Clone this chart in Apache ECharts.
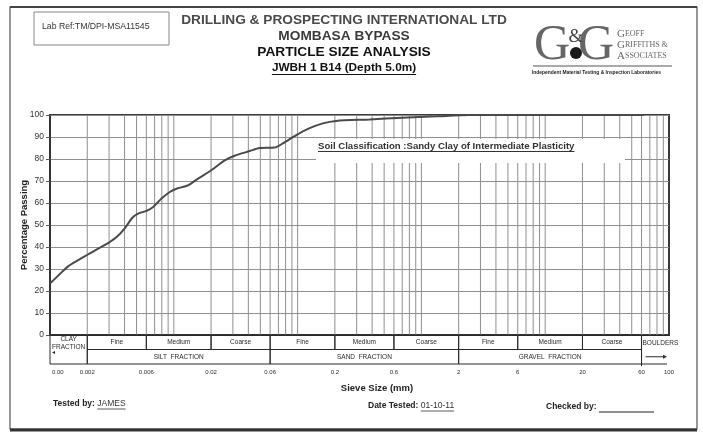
<!DOCTYPE html>
<html>
<head>
<meta charset="utf-8">
<script src="https://cdn.jsdelivr.net/npm/echarts@6.0.0/dist/echarts.min.js"></script>
<style>
  html, body { margin: 0; padding: 0; background: #ffffff; }
  #chart { width: 703px; height: 433px; }
</style>
</head>
<body>
<div id="chart"></div>
<script>
// Grading curve: sieve size (mm) against percentage passing
const sieveSizes = [0.001, 0.00117, 0.0014, 0.00169, 0.00204, 0.00245, 0.00295, 0.00345, 0.00403,
  0.00461, 0.00515, 0.00603, 0.00681, 0.00796, 0.00928, 0.0105, 0.013, 0.0157, 0.0201, 0.0258,
  0.031, 0.041, 0.0494, 0.0653, 0.0761, 0.0976, 0.125, 0.16, 0.205, 0.381, 0.703, 1.32, 2.44, 6.3, 20, 63];
const percentPassing = [23.4, 27.1, 31.2, 34, 36.7, 39.3, 41.8, 44.5, 48.6,
  53.2, 55.2, 56.4, 58.2, 62, 65, 66.5, 68, 71.1, 74.9, 79.4,
  81.5, 83.6, 85, 85.2, 87.1, 90.9, 94, 96.2, 97.3, 98, 98.8, 99.4, 100, 100, 100, 100];

// Sieve size labels printed under the fraction table
const sieveTicks = [0.001, 0.002, 0.006, 0.02, 0.06, 0.2, 0.6, 2, 6, 20, 60, 100];
const sieveTickLabels = ['0.00', '0.002', '0.006', '0.02', '0.06', '0.2', '0.6', '2', '6', '20', '60', '100'];

// Soil fraction table (BS 5930 boundaries)
const subFractionEdges = [0.002, 0.006, 0.02, 0.06, 0.2, 0.6, 2, 6, 20, 60];
const subFractionNames = ['Fine', 'Medium', 'Coarse', 'Fine', 'Medium', 'Coarse', 'Fine', 'Medium', 'Coarse'];
const mainFractionEdges = [0.002, 0.06, 2, 60];
const mainFractionNames = ['SILT  FRACTION', 'SAND  FRACTION', 'GRAVEL  FRACTION'];
const clayRange = [0.001, 0.002];
const boulderRange = [60, 100];

const FONT = '"Liberation Sans", Arial, sans-serif';
const SERIF = '"Liberation Serif", "DejaVu Serif", serif';
const INK = '#2a2a2a';
const GRID = '#8f8f8f';
const ROW_H = 14.5;

// log-cycle grid: 1..9 within every decade
const logGrid = [];
for (let e = -3; e <= 1; e++) {
  for (let m = 1; m <= 9; m++) {
    const v = Number((m * Math.pow(10, e)).toPrecision(3));
    if (v > 0.001 && v < 100) logGrid.push(v);
  }
}

// table cells built from the fraction arrays
const cells = [{ kind: 'clay', from: clayRange[0], to: clayRange[1] }];
subFractionNames.forEach((n, i) => cells.push({ kind: 'sub', from: subFractionEdges[i], to: subFractionEdges[i + 1], label: n }));
mainFractionNames.forEach((n, i) => cells.push({ kind: 'main', from: mainFractionEdges[i], to: mainFractionEdges[i + 1], label: n }));
cells.push({ kind: 'boulder', from: boulderRange[0], to: boulderRange[1] });

const mctx = document.createElement('canvas').getContext('2d');
function textWidth(str, size, weight) {
  mctx.font = (weight || 'normal') + ' ' + size + 'px ' + FONT;
  return mctx.measureText(str).width;
}

const cellStroke = { stroke: INK, lineWidth: 1, fill: 'transparent' };
function cellText(x, y, txt, size, align) {
  return { type: 'text', style: { x: x, y: y, text: txt, fill: INK, font: size + 'px ' + FONT, align: align || 'center', verticalAlign: 'middle' } };
}

function renderCell(params, api) {
  const c = cells[params.dataIndex];
  const p0 = api.coord([c.from, 0]);
  const x0 = p0[0], yb = p0[1];
  const x1 = api.coord([c.to, 0])[0];
  const kids = [];
  if (c.kind === 'sub') {
    kids.push({ type: 'rect', shape: { x: x0, y: yb, width: x1 - x0, height: ROW_H }, style: cellStroke });
    kids.push(cellText((x0 + x1) / 2, yb + ROW_H / 2, c.label, 6.5));
  } else if (c.kind === 'main') {
    kids.push({ type: 'rect', shape: { x: x0, y: yb + ROW_H, width: x1 - x0, height: ROW_H }, style: cellStroke });
    kids.push(cellText((x0 + x1) / 2, yb + ROW_H * 1.5, c.label, 6.5));
  } else if (c.kind === 'clay') {
    kids.push({ type: 'rect', shape: { x: x0, y: yb, width: x1 - x0, height: ROW_H * 2 }, style: cellStroke });
    kids.push(cellText((x0 + x1) / 2, yb + 4.5, 'CLAY', 6.5));
    kids.push(cellText((x0 + x1) / 2, yb + 12.5, 'FRACTION', 6.5));
    kids.push({ type: 'polygon', shape: { points: [[x0 + 2, yb + 17.5], [x0 + 5, yb + 16], [x0 + 5, yb + 19]] }, style: { fill: INK } });
  } else {
    kids.push({ type: 'line', shape: { x1: x0, y1: yb, x2: x0, y2: yb + ROW_H * 2 + 2 }, style: { stroke: INK, lineWidth: 1 } });
    kids.push({ type: 'line', shape: { x1: x0, y1: yb + ROW_H * 2, x2: x1 - 2, y2: yb + ROW_H * 2 }, style: { stroke: INK, lineWidth: 1 } });
    kids.push(cellText(x0 + 1, yb + ROW_H / 2 + 1, 'BOULDERS', 6.5, 'left'));
    const ya = yb + ROW_H * 1.5;
    kids.push({ type: 'line', shape: { x1: x0 + 4, y1: ya, x2: x1 - 5, y2: ya }, style: { stroke: INK, lineWidth: 1 } });
    kids.push({ type: 'polygon', shape: { points: [[x1 - 2, ya], [x1 - 6, ya - 2], [x1 - 6, ya + 2]] }, style: { fill: INK } });
  }
  return { type: 'group', children: kids };
}

function renderTick(params, api) {
  const v = sieveTicks[params.dataIndex];
  const p = api.coord([v, 0]);
  const first = params.dataIndex === 0;
  return cellText(first ? p[0] + 2 : p[0], p[1] + 37.5, sieveTickLabels[params.dataIndex], 6, first ? 'left' : 'center');
}

function renderGridLine(params, api) {
  const v = logGrid[params.dataIndex];
  const a = api.coord([v, 0]);
  const b = api.coord([v, 100]);
  return { type: 'line', shape: { x1: a[0], y1: a[1], x2: b[0], y2: b[1] }, style: { stroke: GRID, lineWidth: 1 } };
}

// header / footer helpers
function txt(x, y, str, size, weight, color, align, family) {
  return { type: 'text', z: 20, style: { x: x, y: y, text: str, fill: color || INK, font: (weight || 'normal') + ' ' + size + 'px ' + (family || FONT), align: align || 'left', verticalAlign: 'middle' } };
}
function underline(x, y, w, color, width) {
  return { type: 'line', z: 20, shape: { x1: x, y1: y, x2: x + w, y2: y }, style: { stroke: color || INK, lineWidth: width || 1 } };
}

const graphics = [];
// page frame
graphics.push({ type: 'rect', z: 0, shape: { x: 10, y: 7, width: 687, height: 422 }, style: { fill: 'transparent', stroke: '#555', lineWidth: 1.2 } });
graphics.push({ type: 'line', z: 0, shape: { x1: 10, y1: 7, x2: 697, y2: 7 }, style: { stroke: '#444', lineWidth: 2 } });
graphics.push({ type: 'line', z: 0, shape: { x1: 10, y1: 430, x2: 697, y2: 430 }, style: { stroke: '#333', lineWidth: 3 } });
// lab reference box
graphics.push({ type: 'rect', z: 20, shape: { x: 34, y: 12, width: 135, height: 33 }, style: { fill: 'transparent', stroke: '#888', lineWidth: 1 } });
graphics.push(txt(42, 27, 'Lab Ref:TM/DPI-MSA11545', 8.7, 'normal', '#333'));
// titles
const TX = 344;
graphics.push(txt(TX, 20, 'DRILLING & PROSPECTING INTERNATIONAL LTD', 13.7, 'bold', '#4a4a4a', 'center'));
graphics.push(txt(TX, 36, 'MOMBASA BYPASS', 13.7, 'bold', '#3a3a3a', 'center'));
graphics.push(txt(TX, 52, 'PARTICLE SIZE ANALYSIS', 13.7, 'bold', '#111', 'center'));
const sub = 'JWBH 1 B14 (Depth 5.0m)';
const subW = textWidth(sub, 11.8, 'bold');
graphics.push(txt(TX, 68, sub, 11.8, 'bold', '#111', 'center'));
graphics.push(underline(TX - subW / 2, 74.5, subW, '#111', 1));
// logo
graphics.push(txt(534, 46, 'G', 50, 'normal', '#666', 'left', SERIF));
graphics.push(txt(578, 46, 'G', 50, 'normal', '#666', 'left', SERIF));
graphics.push(txt(576, 37, '&', 19, 'normal', '#444', 'center', SERIF));
graphics.push({ type: 'circle', z: 21, shape: { cx: 576, cy: 53, r: 6 }, style: { fill: '#1a1a1a' } });
const capRich = { b: { font: '11px ' + SERIF, fill: '#666' }, s: { font: '8px ' + SERIF, fill: '#666' } };
[['G', 'EOFF', 34], ['G', 'RIFFITHS &', 45], ['A', 'SSOCIATES', 56]].forEach(function (r) {
  graphics.push({ type: 'text', z: 20, style: { x: 617, y: r[2], text: '{b|' + r[0] + '}{s|' + r[1] + '}', rich: capRich, verticalAlign: 'middle' } });
});
graphics.push(underline(533, 66, 139, '#555', 1));
graphics.push(txt(532, 72.5, 'Independent Material Testing & Inspection Laboratories', 4.9, 'bold', '#222'));
// soil classification note
graphics.push({ type: 'rect', z: 10, shape: { x: 316, y: 139, width: 309, height: 24 }, style: { fill: '#ffffff' } });
const note = 'Soil Classification :Sandy Clay of Intermediate Plasticity';
const noteW = textWidth(note, 9.6, 'bold');
graphics.push(txt(318, 146, note, 9.6, 'bold', '#333'));
graphics.push(underline(318, 151.5, noteW, '#333', 1));
// axis title and footer
graphics.push(txt(377, 388, 'Sieve Size (mm)', 9.5, 'bold', '#222', 'center'));
graphics.push(txt(53, 404, 'Tested by: ', 8.5, 'bold', '#222'));
const tbW = textWidth('Tested by: ', 8.5, 'bold');
const jW = textWidth('JAMES', 8.5, 'normal');
graphics.push(txt(53 + tbW, 404, 'JAMES', 8.5, 'normal', '#333'));
graphics.push(underline(53 + tbW, 409, jW, '#333', 0.8));
graphics.push(txt(368, 406, 'Date Tested: ', 8.5, 'bold', '#222'));
const dtW = textWidth('Date Tested: ', 8.5, 'bold');
const dW = textWidth('01-10-11', 8.5, 'normal');
graphics.push(txt(368 + dtW, 406, '01-10-11', 8.5, 'normal', '#333'));
graphics.push(underline(368 + dtW, 411, dW, '#333', 0.8));
graphics.push(txt(546, 407, 'Checked by: ', 8.5, 'bold', '#222'));
const cbW = textWidth('Checked by: ', 8.5, 'bold');
graphics.push(underline(546 + cbW, 412, 654 - 546 - cbW, '#222', 1));

const chart = echarts.init(document.getElementById('chart'));
chart.setOption({
  animation: false,
  backgroundColor: '#ffffff',
  grid: { left: 50, top: 115, width: 619, height: 220, show: true, borderColor: '#3a3a3a', borderWidth: 2, backgroundColor: 'transparent' },
  xAxis: {
    type: 'log', logBase: 10, min: 0.001, max: 100,
    axisLabel: { show: false }, axisTick: { show: false }, splitLine: { show: false },
    axisLine: { show: true, lineStyle: { color: INK, width: 1 } }
  },
  yAxis: {
    type: 'value', min: 0, max: 100, interval: 10,
    name: 'Percentage Passing', nameLocation: 'middle', nameGap: 21, nameRotate: 90, nameMoveOverlap: false,
    nameTextStyle: { fontFamily: FONT, fontWeight: 'bold', fontSize: 9.5, color: '#222' },
    axisLine: { show: true, lineStyle: { color: '#333', width: 1.5 } },
    axisTick: { show: true, length: 4, lineStyle: { color: '#555' } },
    axisLabel: { fontFamily: FONT, fontSize: 8.5, color: '#333', margin: 6 },
    splitLine: { show: true, lineStyle: { color: GRID, width: 1 } }
  },
  graphic: graphics,
  series: [
    { type: 'custom', name: 'grid', z: 1, silent: true, data: logGrid.map(v => [v, 0]), renderItem: renderGridLine },
    {
      type: 'line', name: 'Percentage passing', z: 5, silent: true, showSymbol: false, smooth: 0.25,
      lineStyle: { color: '#4a4a4a', width: 2 },
      data: sieveSizes.map((s, i) => [s, percentPassing[i]])
    },
    { type: 'custom', name: 'fractions', z: 6, silent: true, clip: false, data: cells.map(c => [c.from, 0]), renderItem: renderCell },
    { type: 'custom', name: 'sieve labels', z: 6, silent: true, clip: false, data: sieveTicks.map(v => [v, 0]), renderItem: renderTick }
  ]
});
</script>
</body>
</html>
